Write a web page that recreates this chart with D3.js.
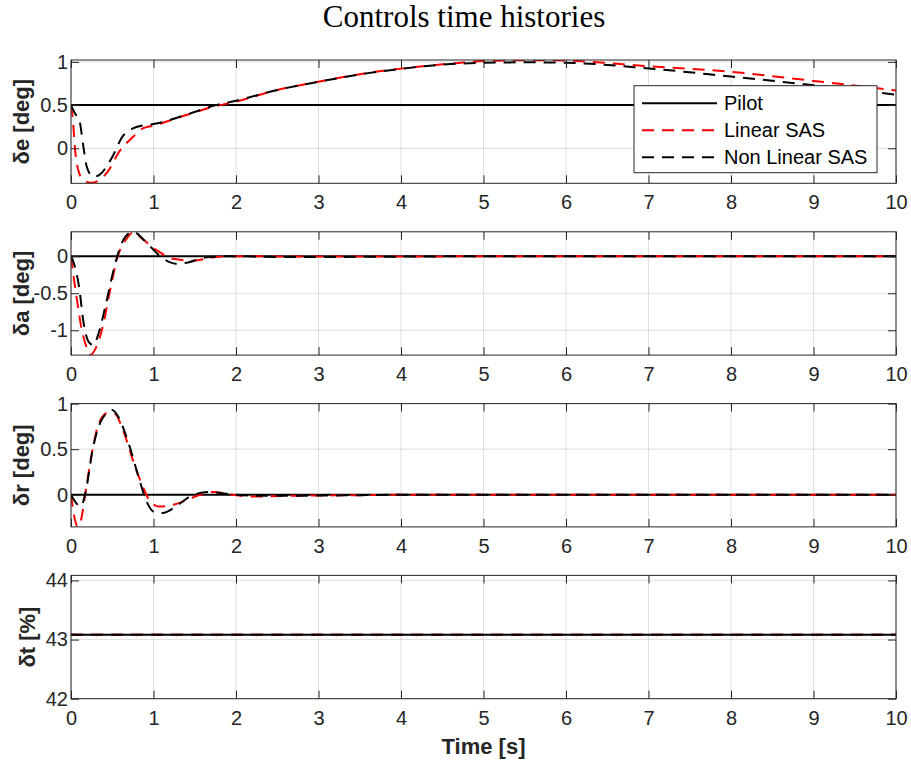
<!DOCTYPE html>
<html>
<head>
<meta charset="utf-8">
<script src="https://cdn.jsdelivr.net/npm/d3@7"></script>
<style>
  body { margin: 0; background: #fff; }
  text { font-family: "Liberation Sans", Helvetica, Arial, sans-serif; }
</style>
</head>
<body>
<svg id="chart" width="911" height="762"></svg>
<script>
// ---- data ----
var timeTicks = [0, 1, 2, 3, 4, 5, 6, 7, 8, 9, 10];
var seriesNames = ["Pilot", "Linear SAS", "Non Linear SAS"];

// elevator
var deYTicks = [0, 0.5, 1];
var dePilotT = [0, 10], dePilotV = [0.5, 0.5];
var deLinT = [0, 0.02, 0.05, 0.1, 0.155, 0.24, 0.34, 0.46, 0.57, 0.75, 0.87, 0.99, 1.4, 1.76, 2.0, 2.48, 3.0, 3.58, 4.03, 4.6, 5.0, 5.6, 6.0, 7.0, 8.0, 9.0, 10];
var deLinV = [0.5, 0.36, -0.02, -0.29, -0.37, -0.40, -0.37, -0.25, -0.06, 0.13, 0.23, 0.26, 0.385, 0.49, 0.54, 0.67, 0.77, 0.87, 0.925, 0.98, 1.01, 1.02, 1.015, 0.95, 0.885, 0.78, 0.67];
var deNlT = [0, 0.05, 0.1, 0.15, 0.19, 0.27, 0.34, 0.5, 0.62, 0.75, 0.91, 1.0, 1.4, 1.76, 2.0, 2.5, 3.0, 3.6, 4.0, 4.6, 5.0, 5.5, 6.0, 7.0, 8.0, 9.0, 10];
var deNlV = [0.5, 0.4, 0.33, 0.02, -0.21, -0.33, -0.31, -0.1, 0.13, 0.23, 0.27, 0.28, 0.39, 0.5, 0.55, 0.675, 0.77, 0.87, 0.92, 0.975, 0.99, 0.995, 0.99, 0.925, 0.83, 0.73, 0.62];

// aileron
var daYTicks = [-1, -0.5, 0];
var daPilotT = [0, 10], daPilotV = [0, 0];
var daLinT = [0, 0.03, 0.07, 0.12, 0.18, 0.24, 0.3, 0.39, 0.47, 0.57, 0.67, 0.75, 0.87, 1.04, 1.24, 1.48, 1.76, 2.0, 3, 4, 5, 6, 7, 8, 9, 10];
var daLinV = [0, -0.26, -0.57, -0.93, -1.2, -1.33, -1.24, -0.93, -0.48, 0.01, 0.23, 0.32, 0.23, 0.08, -0.035, -0.06, -0.01, 0, -0.005, -0.005, 0, 0, 0, 0, 0, 0];
var daNlT = [0, 0.03, 0.1, 0.15, 0.21, 0.27, 0.34, 0.42, 0.52, 0.62, 0.75, 0.91, 1.07, 1.27, 1.43, 1.64, 1.96, 2.5, 3, 4, 5, 6, 7, 8, 9, 10];
var daNlV = [0, -0.08, -0.43, -0.88, -1.15, -1.2, -1.02, -0.66, -0.17, 0.19, 0.33, 0.19, 0.01, -0.1, -0.08, -0.015, 0, -0.01, -0.01, -0.005, 0, 0, 0, 0, 0, 0];

// rudder
var drYTicks = [0, 0.5, 1];
var drPilotT = [0, 10], drPilotV = [0, 0];
var drLinT = [0, 0.04, 0.08, 0.12, 0.18, 0.26, 0.34, 0.45, 0.53, 0.63, 0.75, 0.87, 0.95, 1.07, 1.24, 1.4, 1.56, 1.72, 1.96, 2.2, 2.77, 3.5, 4, 5, 6, 7, 8, 9, 10];
var drLinV = [0, -0.24, -0.35, -0.28, 0.05, 0.49, 0.79, 0.9, 0.89, 0.71, 0.38, 0.09, -0.06, -0.13, -0.11, -0.06, 0, 0.03, 0, -0.02, -0.01, -0.005, 0, 0, 0, 0, 0, 0, 0];
var drNlT = [0, 0.07, 0.12, 0.17, 0.27, 0.37, 0.5, 0.57, 0.71, 0.83, 0.91, 1.01, 1.11, 1.27, 1.44, 1.68, 1.88, 2.2, 2.8, 3.5, 4, 5, 6, 7, 8, 9, 10];
var drNlV = [0, -0.1, -0.13, 0, 0.53, 0.82, 0.93, 0.86, 0.53, 0.16, -0.06, -0.19, -0.2, -0.13, -0.02, 0.03, 0.01, -0.01, -0.01, -0.005, 0, 0, 0, 0, 0, 0, 0];

// throttle
var dtYTicks = [42, 43, 44];
var dtPilotT = [0, 10], dtPilotV = [43.08, 43.08];
var dtLinT = [0, 10], dtLinV = [43.08, 43.08];
var dtNlT = [0, 10], dtNlV = [43.08, 43.08];

var panels = [
  { label: "\u03b4e [deg]", domain: [-0.405, 1.022], ticks: deYTicks, labelX: 29,
    series: [[dePilotT, dePilotV], [deLinT, deLinV], [deNlT, deNlV]] },
  { label: "\u03b4a [deg]", domain: [-1.335, 0.33], ticks: daYTicks, labelX: 29,
    series: [[daPilotT, daPilotV], [daLinT, daLinV], [daNlT, daNlV]] },
  { label: "\u03b4r [deg]", domain: [-0.353, 1.0], ticks: drYTicks, labelX: 29,
    series: [[drPilotT, drPilotV], [drLinT, drLinV], [drNlT, drNlV]] },
  { label: "\u03b4t [%]", domain: [42, 44.085], ticks: dtYTicks, labelX: 35,
    series: [[dtPilotT, dtPilotV], [dtLinT, dtLinV], [dtNlT, dtNlV]] }
];

// ---- layout / style ----
var left = 71, right = 896, plotH = 123.3, top0 = 60, pitch = 171.8;
var axColor = "#262626";
var styles = [
  { color: "#000000", dash: null },
  { color: "#ff0000", dash: "12,8" },
  { color: "#000000", dash: "12,8" }
];

var svg = d3.select("#chart");

svg.append("text")
  .attr("x", 464).attr("y", 27)
  .attr("text-anchor", "middle")
  .style("font-family", "'Liberation Serif', 'Times New Roman', serif")
  .style("font-size", "31px")
  .style("fill", "#000")
  .text("Controls time histories");

var x = d3.scaleLinear().domain([0, 10]).range([0, right - left]);
var W = right - left;

panels.forEach(function(p, i) {
  var top = top0 + i * pitch;
  var y = d3.scaleLinear().domain(p.domain).range([plotH, 0]);
  var g = svg.append("g").attr("transform", "translate(" + left + "," + top + ")");

  g.append("rect").attr("width", W).attr("height", plotH).style("fill", "#fff");

  // grid
  g.append("g").selectAll("line.vg").data(timeTicks).enter().append("line")
    .attr("x1", function(d) { return x(d); }).attr("x2", function(d) { return x(d); })
    .attr("y1", 0).attr("y2", plotH)
    .style("stroke", axColor).style("stroke-opacity", 0.15).style("stroke-width", 1);
  g.append("g").selectAll("line.hg").data(p.ticks).enter().append("line")
    .attr("x1", 0).attr("x2", W)
    .attr("y1", function(d) { return y(d); }).attr("y2", function(d) { return y(d); })
    .style("stroke", axColor).style("stroke-opacity", 0.15).style("stroke-width", 1);

  // lines
  g.append("clipPath").attr("id", "clip" + i).append("rect").attr("width", W).attr("height", plotH);
  var lineGen = d3.line()
    .x(function(d) { return x(d[0]); })
    .y(function(d) { return y(d[1]); })
    .curve(d3.curveMonotoneX);
  p.series.forEach(function(s, k) {
    var pts = s[0].map(function(t, j) { return [t, s[1][j]]; });
    g.append("path").datum(pts)
      .attr("clip-path", "url(#clip" + i + ")")
      .attr("d", lineGen)
      .style("fill", "none")
      .style("stroke", styles[k].color)
      .style("stroke-width", 2)
      .style("stroke-dasharray", styles[k].dash);
  });

  // axes (ticks inward on all sides)
  var xb = g.append("g").attr("transform", "translate(0," + plotH + ")")
    .call(d3.axisBottom(x).tickValues(timeTicks).tickSize(-8).tickPadding(12).tickFormat(d3.format("d")));
  var xt = g.append("g")
    .call(d3.axisTop(x).tickValues(timeTicks).tickSize(-8).tickFormat(""));
  var yl = g.append("g")
    .call(d3.axisLeft(y).tickValues(p.ticks).tickSize(-8).tickPadding(3).tickFormat(function(d) { return String(d); }));
  var yr = g.append("g").attr("transform", "translate(" + W + ",0)")
    .call(d3.axisRight(y).tickValues(p.ticks).tickSize(-8).tickFormat(""));
  [xb, xt, yl, yr].forEach(function(a) {
    a.select(".domain").remove();
    a.selectAll("line").style("stroke", axColor);
    a.selectAll("text").style("font-size", "20px").style("fill", axColor)
      .style("font-family", "'Liberation Sans', Helvetica, Arial, sans-serif");
  });

  g.append("rect").attr("width", W).attr("height", plotH)
    .style("fill", "none").style("stroke", axColor).style("stroke-width", 1);

  g.append("text")
    .attr("transform", "translate(" + (p.labelX - left) + "," + (plotH / 2) + ") rotate(-90)")
    .attr("text-anchor", "middle")
    .style("font-size", "22px").style("font-weight", "bold").style("fill", axColor)
    .text(p.label);

  // legend on the first panel only
  if (i === 0) {
    var lg = g.append("g").attr("transform", "translate(" + (634 - left) + "," + (85.7 - top) + ")");
    lg.append("rect").attr("width", 243).attr("height", 87)
      .style("fill", "#fff").style("stroke", axColor).style("stroke-width", 1);
    var items = lg.selectAll("g.legItem").data(seriesNames).enter().append("g")
      .attr("class", "legItem")
      .attr("transform", function(d, k) { return "translate(0," + (17.5 + k * 27) + ")"; });
    items.append("line")
      .attr("x1", 8).attr("x2", 83).attr("y1", 0).attr("y2", 0)
      .style("stroke", function(d, k) { return styles[k].color; })
      .style("stroke-width", 2)
      .style("stroke-dasharray", function(d, k) { return styles[k].dash; });
    items.append("text")
      .attr("x", 90).attr("y", 0).attr("dy", "0.35em")
      .style("font-size", "20px").style("fill", "#000")
      .text(function(d) { return d; });
  }

  if (i === panels.length - 1) {
    svg.append("text")
      .attr("x", left + W / 2).attr("y", top + plotH + 55)
      .attr("text-anchor", "middle")
      .style("font-size", "22px").style("font-weight", "bold").style("fill", axColor)
      .text("Time [s]");
  }
});
</script>
</body>
</html>
